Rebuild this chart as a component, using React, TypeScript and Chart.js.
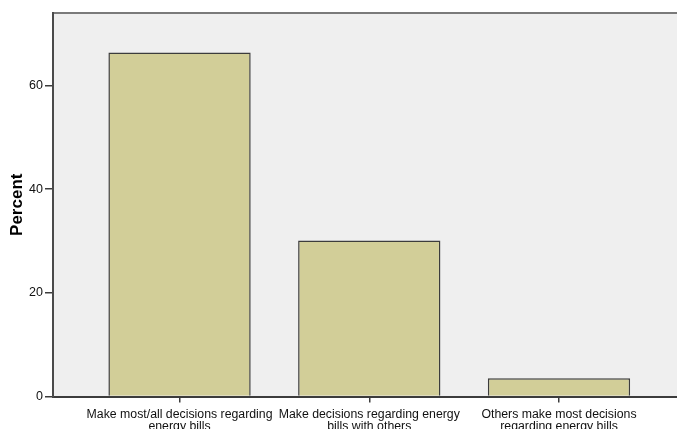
import React, { useEffect, useRef } from "react";
import { Chart, registerables } from "chart.js";

Chart.register(...registerables);

const categories: string[][] = [
  ["Make most/all decisions regarding", "energy bills"],
  ["Make decisions regarding energy", "bills with others"],
  ["Others make most decisions", "regarding energy bills"],
];
const percentValues: number[] = [66.4, 30.1, 3.5];
const yTickValues: number[] = [0, 20, 40, 60];
const yAxisTitle = "Percent";

const plotBackground = {
  id: "plotBackground",
  beforeDraw(chart: any) {
    const { ctx, chartArea } = chart;
    ctx.save();
    ctx.fillStyle = "#EFEFEF";
    ctx.fillRect(chartArea.left, chartArea.top, chartArea.right - chartArea.left, chartArea.bottom - chartArea.top);
    ctx.strokeStyle = "#7a7a7a";
    ctx.lineWidth = 2;
    ctx.beginPath();
    ctx.moveTo(chartArea.left, chartArea.top);
    ctx.lineTo(chartArea.right, chartArea.top);
    ctx.stroke();
    ctx.restore();
  },
};

export default function App() {
  const canvasRef = useRef<HTMLCanvasElement | null>(null);

  useEffect(() => {
    if (!canvasRef.current) return;
    const chart = new Chart(canvasRef.current, {
      type: "bar",
      data: {
        datasets: [
          {
            data: percentValues.map((v, i) => ({ x: i, y: v })),
            backgroundColor: "#D2CE98",
            borderColor: "#3c3c3c",
            borderWidth: 1.5,
            categoryPercentage: 1,
            barPercentage: 0.75,
          } as any,
        ],
      },
      options: {
        responsive: false,
        animation: false,
        layout: { padding: { top: 13, left: 0, right: 0, bottom: 0 } },
        plugins: { legend: { display: false }, tooltip: { enabled: false } },
        scales: {
          x: {
            type: "linear",
            offset: false,
            min: -0.667,
            max: 2.622,
            afterBuildTicks: (scale: any) => {
              scale.ticks = categories.map((_, i) => ({ value: i }));
            },
            afterFit: (scale: any) => {
              scale.height = 32.5;
            },
            ticks: {
              callback: (value: any) => categories[Number(value)] ?? "",
              font: { family: "'Liberation Sans', Arial, sans-serif", size: 12.3, lineHeight: 0.9 },
              color: "#111",
              padding: 7,
              maxRotation: 0,
              autoSkip: false,
            },
            grid: { offset: false, drawOnChartArea: false, drawTicks: true, tickLength: 6, color: "#3c3c3c", lineWidth: 1.5 },
            border: { display: true, color: "#3c3c3c", width: 2 },
          },
          y: {
            min: 0,
            max: 74,
            afterBuildTicks: (scale: any) => {
              scale.ticks = yTickValues.map((v) => ({ value: v }));
            },
            afterFit: (scale: any) => {
              scale.width = 53;
            },
            ticks: {
              font: { family: "'Liberation Sans', Arial, sans-serif", size: 12.5 },
              color: "#111",
              padding: 2,
            },
            grid: { drawOnChartArea: false, drawTicks: true, tickLength: 8, color: "#3c3c3c", lineWidth: 1.5 },
            border: { display: true, color: "#4a4a4a", width: 2 },
            title: {
              display: true,
              text: yAxisTitle,
              color: "#000",
              font: { family: "'Liberation Sans', Arial, sans-serif", size: 17, weight: "bold" },
              padding: { top: 7, bottom: 0 },
            },
          },
        },
      },
      plugins: [plotBackground],
    });
    return () => chart.destroy();
  }, []);

  return (
    <div style={{ position: "fixed", left: 0, top: 0, width: 677, height: 429, background: "#fff" }}>
      <canvas ref={canvasRef} width={677} height={429} style={{ display: "block" }} />
    </div>
  );
}
